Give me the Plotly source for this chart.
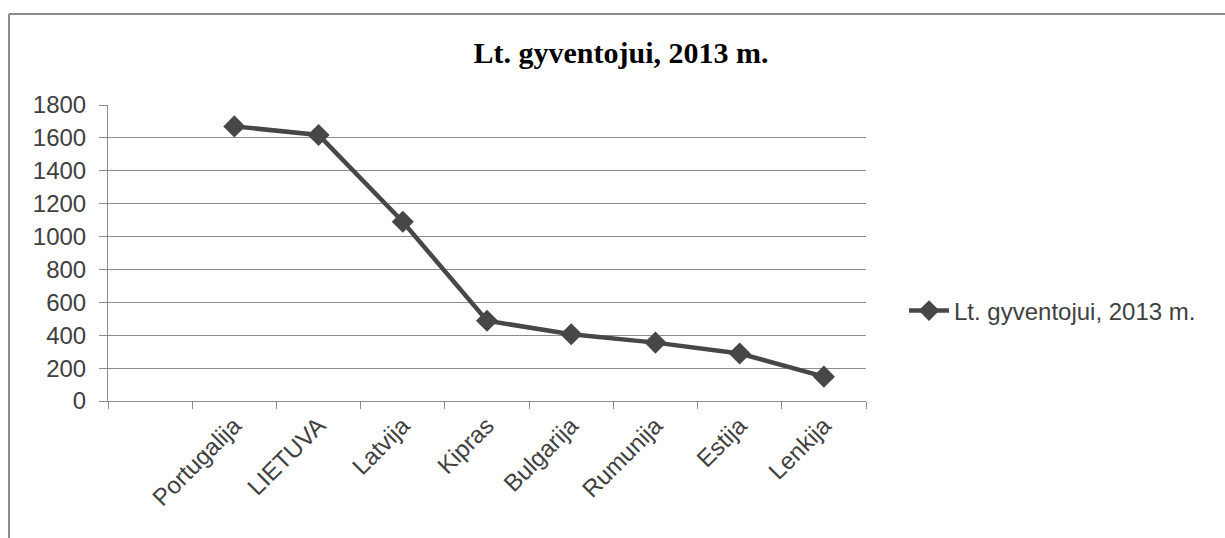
import plotly.graph_objects as go

# Excel paliko tuščią pirmą kategoriją, todėl ašis turi 9 vietas
categories = [" ", "Portugalija", "LIETUVA", "Latvija", "Kipras",
              "Bulgarija", "Rumunija", "Estija", "Lenkija"]
values = [None, 1670, 1618, 1090, 488, 406, 355, 289, 148]
series_name = "Lt. gyventojui, 2013 m."
y_ticks = [0, 200, 400, 600, 800, 1000, 1200, 1400, 1600, 1800]

W, H = 1225, 538
L, R, T, B = 108, 359, 105, 137
pw, ph = W - L - R, H - T - B


def px_x(p):
    return (p - L) / pw


def px_y(p):
    return (H - B - p) / ph


line_col = "#474747"
grid_col = "#8c8c8c"
text_col = "#404040"
fsize = 24

fig = go.Figure()

fig.add_trace(
    go.Scatter(
        x=categories,
        y=values,
        name=series_name,
        mode="lines+markers",
        line=dict(color=line_col, width=4.5),
        marker=dict(symbol="diamond", size=17, color=line_col),
        connectgaps=False,
        showlegend=True,
    )
)

# rėmelis aplink diagramą (matosi tik viršus ir kairė)
frame = dict(color="#8a8a8a", width=2)
fig.add_shape(type="line", xref="paper", yref="paper",
              x0=px_x(9), x1=px_x(W + 5), y0=px_y(14), y1=px_y(14), line=frame)
fig.add_shape(type="line", xref="paper", yref="paper",
              x0=px_x(9), x1=px_x(9), y0=px_y(14), y1=px_y(H + 5), line=frame)

fig.update_layout(
    width=W,
    height=H,
    margin=dict(l=L, r=R, t=T, b=B),
    plot_bgcolor="white",
    paper_bgcolor="white",
    font=dict(family="Liberation Sans, Arial, sans-serif", size=fsize, color=text_col),
    title=dict(
        text="<b>Lt. gyventojui, 2013 m.</b>",
        font=dict(family="Liberation Serif, Times New Roman, serif", size=30, color="black"),
        x=px_x(621),
        xanchor="center",
        xref="paper",
        y=1 - 52 / H,
        yanchor="middle",
    ),
    xaxis=dict(
        type="category",
        categoryorder="array",
        categoryarray=categories,
        range=[-0.5, len(categories) - 0.5],
        tickson="boundaries",
        ticks="outside",
        ticklen=7,
        tickcolor=grid_col,
        showline=True,
        linecolor=grid_col,
        linewidth=1,
        showgrid=False,
        tickangle=-45,
        tickfont=dict(size=fsize, color=text_col),
    ),
    yaxis=dict(
        range=[0, 1800],
        tickvals=y_ticks,
        ticks="outside",
        ticklen=8,
        tickcolor=grid_col,
        showline=True,
        linecolor=grid_col,
        linewidth=1,
        showgrid=True,
        gridcolor=grid_col,
        gridwidth=1,
        zeroline=False,
        ticklabelstandoff=8,
        tickfont=dict(size=fsize, color=text_col),
    ),
    legend=dict(
        x=px_x(904),
        xanchor="left",
        y=px_y(311),
        yanchor="middle",
        bgcolor="rgba(0,0,0,0)",
        font=dict(size=fsize, color=text_col),
        itemwidth=40,
    ),
    showlegend=True,
)

# naršyklės numatytoji 8px paraštė stumia visą grafiką
fig.write_html(
    "out.html",
    config={"displayModeBar": False},
    post_script="document.body.style.margin='0';",
)
